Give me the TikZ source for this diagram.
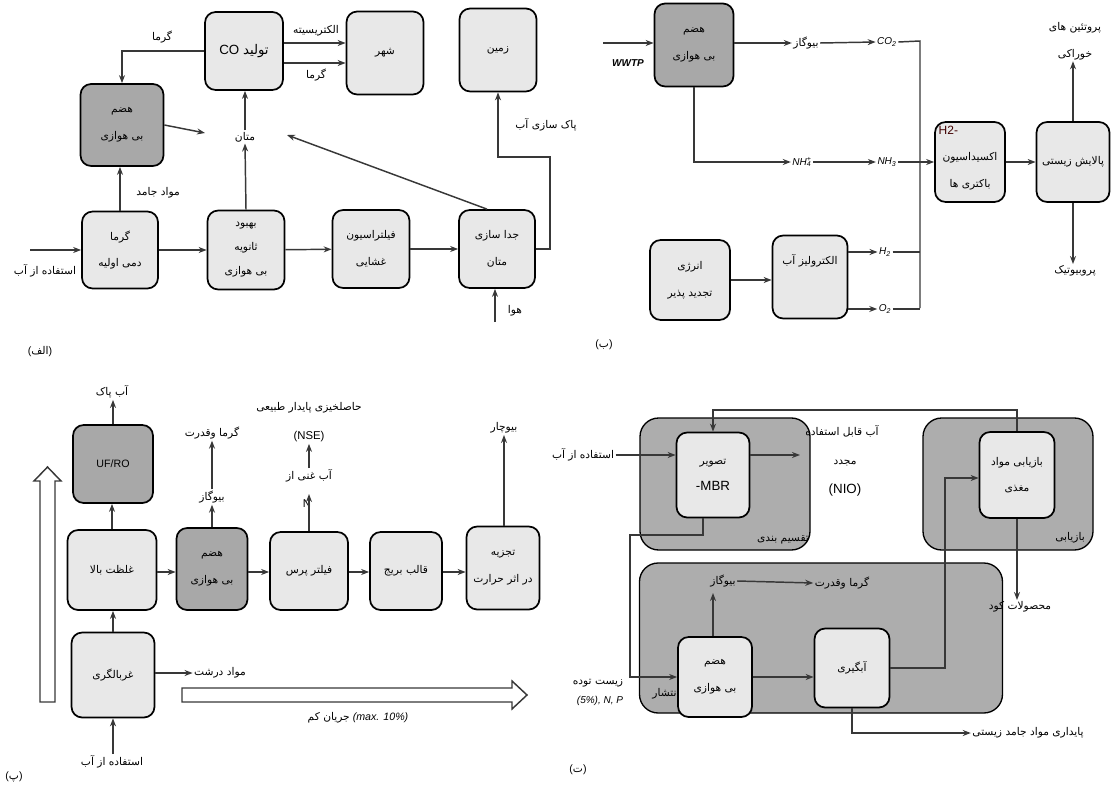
\documentclass[tikz,border=0pt]{standalone}
\usepackage{fontspec}
\setmainfont{Liberation Sans}
\newfontfamily\arabicfont[Script=Arabic]{DejaVu Sans}
\TeXXeTstate=1
\usetikzlibrary{arrows.meta,calc}
\newcommand\fa[1]{{\arabicfont\beginR #1\endR}}
\definecolor{boxlight}{HTML}{E8E8E8}
\definecolor{boxdark}{HTML}{A8A8A8}
\definecolor{regfill}{HTML}{ADADAD}
\definecolor{linec}{HTML}{383838}
\begin{document}
\begin{tikzpicture}[x=0.75pt,y=-0.75pt,
  sz/.style 2 args={minimum width=#1*0.75pt, minimum height=#2*0.75pt},
  box/.style={draw=black, line width=1.3pt, rounded corners=8pt, fill=boxlight, inner sep=0pt, align=center, font=\fontsize{8}{20}\selectfont},
  dbox/.style={box, fill=boxdark},
  region/.style={draw=black, line width=1pt, rounded corners=14pt, fill=regfill, inner sep=0pt},
  lbl/.style={inner sep=1pt, align=center, font=\fontsize{8}{20}\selectfont},
  arr/.style={draw=linec, line width=1.1pt, -{Stealth[length=6pt,width=4.5pt]}},
  ln/.style={draw=linec, line width=1.1pt},
  hollow/.style={draw=linec, line width=1.1pt, fill=white}
]
\useasboundingbox (0,0) rectangle (1114,788);

%% ---------------- (الف) ----------------
\node[box, sz={78}{78}] (co) at (244,51) {\fontsize{10}{12}\selectfont CO\ \fa{تولید}};
\node[box, sz={77}{83}] (city) at (385,53) {\fa{شهر}};
\node[box, sz={77}{83}] (land) at (498,50) {\fa{زمین}};
\node[dbox, sz={83}{82}] (dig1) at (122,125) {\fa{هضم}\\\fa{بی هوازی}};
\node[lbl] (m1) at (245,137) {\fa{متان}};
\node[box, sz={76}{77}] (b1) at (120,250) {\fa{گرما}\\\fa{دمی اولیه}};
\node[box, sz={77}{79}, font=\fontsize{8}{18}\selectfont] (b2) at (246,250) {\fa{بهبود}\\\fa{ثانویه}\\\fa{بی هوازی}};
\node[box, sz={77}{78}] (b3) at (371,249) {\fa{فیلتراسیون}\\\fa{غشایی}};
\node[box, sz={76}{78}] (b4) at (497,249) {\fa{جدا سازی}\\\fa{متان}};
\coordinate (in1) at (30,250);
\coordinate (air) at (495,322);
\coordinate (mq) at (205,133);
\coordinate (mt) at (287,135);
\coordinate (w1) at (550,157);
\coordinate (e1) at ($(co.east)+(0,-8)$);
\coordinate (e2) at ($(co.east)+(0,12)$);

\draw[arr] (in1) -- (in1 -| b1.west);
\draw[arr] (b1) -- (b2);
\draw[arr] (b2) -- (b3);
\draw[arr] (b3) -- (b4);
\draw[arr] (b1.north) -- (b1.north |- dig1.south);
\draw[arr] (co.west) -| (dig1.north);
\draw[arr] (dig1.east) -- (mq);
\draw[arr] (b2.north) -- (m1.south);
\draw[arr] (m1.north) -- (m1.north |- co.south);
\draw[arr] ([xshift=-7.5pt]b4.north) -- (mt);
\draw[arr] (e1) -- (e1 -| city.west);
\draw[arr] (e2) -- (e2 -| city.west);
\draw[arr] (b4.east) -| (w1) -- (w1 -| land.south) -- (land.south);
\draw[arr] (air) -- (air |- b4.south);

\node[lbl] at (316,31) {\fa{الکتریسیته}};
\node[lbl] at (316,75) {\fa{گرما}};
\node[lbl] at (162,37) {\fa{گرما}};
\node[lbl] at (158,193) {\fa{مواد جامد}};
\node[lbl] at (45,271) {\fa{استفاده از آب}};
\node[lbl] at (515,311) {\fa{هوا}};
\node[lbl] at (546,125) {\fa{پاک سازی آب}};
\node[lbl] at (40,352) {(\fa{الف})};

%% ---------------- (ب) ----------------
\node[dbox, sz={79}{83}] (dig2) at (694,45) {\fa{هضم}\\\fa{بی هوازی}};
\coordinate (wwtp) at (603,43);
\draw[arr] (wwtp) -- (wwtp -| dig2.west);
\node[lbl, font=\fontsize{7.5}{9}\selectfont\bfseries\itshape] at (628,63) {WWTP};
\node[lbl] (bg) at (806,43) {\fa{بیوگاز}};
\node[lbl, font=\fontsize{7.5}{9}\selectfont\itshape] (co2) at (887,42) {CO\textsubscript{2}};
\node[lbl, font=\fontsize{7.5}{9}\selectfont\itshape] (nh4) at (802,162) {NH\rlap{\textsubscript{4}}\textsuperscript{+}};
\node[lbl, font=\fontsize{7.5}{9}\selectfont\itshape] (nh3) at (887,162) {NH\textsubscript{3}};
\draw[arr] (dig2.east |- bg) -- (bg.west);
\draw[arr] (bg.east) -- (co2.west);
\draw[arr] (dig2.south) |- (nh4.west);
\draw[arr] (nh4.east) -- (nh3.west);
\coordinate (bt) at (920,41);
\coordinate (bb) at (920,308);
\draw[ln] (co2.east) -- (bt) -- (bb);
\node[box, sz={70}{80}] (hox) at (970,162) {\\\fa{اکسیداسیون}\\\fa{باکتری ها}};
\node[lbl, anchor=north west, font=\fontsize{9}{10}\selectfont, text=black!75!red] at ($(hox.north west)+(3,3)$) {H2-};
\node[box, sz={73}{80}] (bio) at (1073,162) {\fa{پالایش زیستی}};
\draw[arr] (nh3.east) -- (nh3.east -| hox.west);
\draw[arr] (hox) -- (bio);
\node[lbl] (prot) at (1075,41) {\fa{پروتئین های}\\\fa{خوراکی}};
\node[lbl] (prob) at (1075,271) {\fa{پروبیوتیک}};
\draw[arr] (bio.north) -- (prot.south -| bio.north);
\draw[arr] (bio.south) -- (prob.north -| bio.south);
\node[box, sz={80}{80}] (ren) at (690,280) {\fa{انرژی}\\\fa{تجدید پذیر}};
\node[box, sz={75}{83}] (ely) at (810,277) {\fa{الکترولیز آب}\\[6pt]};
\draw[arr] (ren.east) -- (ren.east -| ely.west);
\node[lbl, font=\fontsize{7.5}{9}\selectfont\itshape] (h2) at (885,252) {H\textsubscript{2}};
\node[lbl, font=\fontsize{7.5}{9}\selectfont\itshape] (o2) at (885,309) {O\textsubscript{2}};
\draw[arr] (ely.east |- h2) -- (h2.west);
\draw[arr] (ely.east |- o2) -- (o2.west);
\draw[ln] (h2.east) -- (h2 -| bt);
\draw[ln] (o2.east) -- (o2 -| bt);
\node[lbl] at (604,345) {(\fa{ب})};

%% ---------------- (پ) ----------------
\draw[hollow] (40,702) -- (40,481) -- (34,481) -- (47.5,467) -- (61,481) -- (55,481) -- (55,702) -- cycle;
\draw[hollow] (182,688) -- (512,688) -- (512,681) -- (527,695) -- (512,709) -- (512,702) -- (182,702) -- cycle;
\node[dbox, sz={80}{78}, font=\fontsize{8}{10}\selectfont] (ufro) at (113,464) {UF/RO};
\node[lbl] (clean) at (112,392) {\fa{آب پاک}};
\node[box, sz={89}{80}] (conc) at (112,570) {\fa{غلظت بالا}};
\node[box, sz={83}{85}] (scr) at (113,675) {\fa{غربالگری}};
\node[lbl] (in3) at (112,762) {\fa{استفاده از آب}};
\draw[arr] (ufro.north) -- (clean.south -| ufro.north);
\draw[arr] (conc.north) -- (conc.north |- ufro.south);
\draw[arr] (scr.north) -- (scr.north |- conc.south);
\draw[arr] (in3.north -| scr.south) -- (scr.south);
\node[lbl] (coarse) at (220,673) {\fa{مواد درشت}};
\draw[arr] (scr.east |- coarse) -- (coarse.west);
\node[lbl] at (358,718) {\fa{جریان کم} \textit{(max. 10\%)}};
\node[dbox, sz={71}{82}] (dig3) at (212,569) {\fa{هضم}\\\fa{بی هوازی}};
\draw[arr] (conc.east |- 0,572) -- (dig3.west |- 0,572);
\node[lbl] (bg3) at (212,497) {\fa{بیوگاز}};
\node[lbl] (hp3) at (212,433) {\fa{گرما وقدرت}};
\draw[arr] (dig3.north) -- (bg3.south -| dig3.north);
\draw[arr] (bg3.north) -- (hp3.south);
\node[box, sz={78}{78}] (fp) at (309,571) {\fa{فیلتر پرس}};
\draw[arr] (dig3.east |- 0,572) -- (fp.west |- 0,572);
\node[lbl, font=\fontsize{8.5}{9}\selectfont] (nn) at (307,504) {N};
\coordinate (ntip) at (309,494);
\draw[arr] (fp.north) -- (ntip);
\node[lbl] (rich) at (309,476) {\fa{آب غنی از}};
\node[lbl, font=\fontsize{8.5}{9}\selectfont] (nse) at (309,437) {(NSE)};
\draw[arr] (rich.north) -- (nse.south);
\node[lbl] at (309,408) {\fa{حاصلخیزی پایدار طبیعی}};
\node[box, sz={72}{78}] (brick) at (406,571) {\fa{قالب بریج}};
\node[box, sz={73}{83}] (pyro) at (503,568) {\fa{تجزیه}\\\fa{در اثر حرارت}};
\draw[arr] (fp.east |- 0,572) -- (brick.west |- 0,572);
\draw[arr] (brick.east |- 0,572) -- (pyro.west |- 0,572);
\node[lbl] (bc) at (504,428) {\fa{بیوچار}};
\draw[arr] (pyro.north -| bc) -- (bc.south);
\node[lbl] at (14,777) {(\fa{پ})};

%% ---------------- (ت) ----------------
\node[region, sz={170}{132}] (r1) at (725,484) {};
\node[region, sz={170}{132}] (r2) at (1008,484) {};
\node[region, sz={363}{150}] (r3) at (821,638) {};
\node[lbl] at (783,540) {\fa{تقسیم بندی}};
\node[lbl] at (1070,538) {\fa{بازیابی}};
\node[lbl] at (666,694) {\fa{انتشار}};
\node[box, sz={73}{85}] (mbr) at (713,475) {\fa{تصویر}\\{\fontsize{10}{12}\selectfont -MBR}};
\node[box, sz={75}{86}] (nut) at (1017,475) {\fa{بازیابی مواد}\\\fa{مغذی}};
\node[box, sz={74}{80}] (dig4) at (715,677) {\fa{هضم}\\\fa{بی هوازی}};
\node[box, sz={75}{79}] (dew) at (852,668) {\fa{آبگیری}};
\node[lbl] (in4) at (583,455) {\fa{استفاده از آب}};
\draw[arr] (in4.east) -- (in4.east -| mbr.west);
\coordinate (reu) at (800,455);
\draw[arr] (mbr.east |- reu) -- (reu);
\node[lbl] at (842,431) {\fa{آب قابل استفاده}};
\node[lbl] at (845,463) {\fa{مجدد}};
\node[lbl, font=\fontsize{10}{12}\selectfont] at (845,490) {(NIO)};
\coordinate (fb) at (1017,410);
\draw[arr] (nut.north) -- (fb) -| (mbr.north);
\coordinate (k1) at (703,535);
\coordinate (k2) at (630,535);
\draw[arr] ($(mbr.south)+(-10,0)$) -- (k1) -- (k2) |- (dig4.west);
\node[lbl] at (598,683) {\fa{زیست توده}};
\node[lbl, font=\fontsize{7.5}{9}\selectfont\itshape] at (600,701) {(5\%), N, P};
\draw[arr] (dig4) -- (dig4 -| dew.west);
\node[lbl] (bg4) at (723,581) {\fa{بیوگاز}};
\draw[arr] (dig4.north -| 713,0) -- (713,593);
\node[lbl] (hp4) at (842,583) {\fa{گرما وقدرت}};
\draw[arr] (bg4.east) -- (hp4.west);
\coordinate (d1) at (945,478);
\draw[arr] (dew.east) -| (d1) -- (d1 -| nut.west);
\node[lbl] (fert) at (1020,607) {\fa{محصولات کود}};
\draw[arr] (nut.south) -- (fert.north -| nut.south);
\node[lbl] (stab) at (1028,733) {\fa{پایداری مواد جامد زیستی}};
\draw[arr] (dew.south) |- (stab.west);
\node[lbl] at (578,770) {(\fa{ت})};
\end{tikzpicture}
\end{document}
